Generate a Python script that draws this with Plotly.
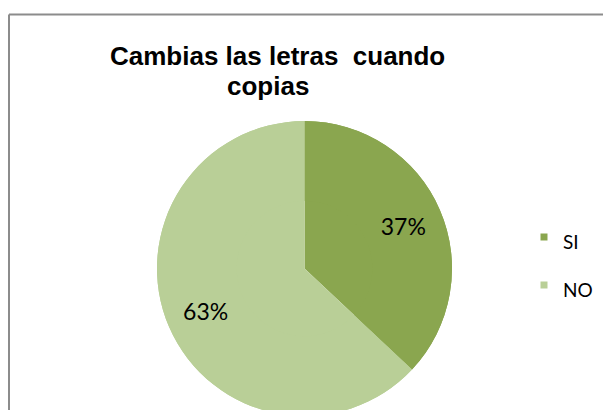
import plotly.graph_objects as go

# ---- data ----
categories = ["SI", "NO"]
values = [37, 63]
colors = ["#8AA64F", "#B9CF97"]
title_lines = ["Cambias las letras  cuando", "copias"]

W, H = 611, 420
OFF = 8  # page body margin in the browser

def px(x):
    return (x - OFF) / W

def py(y):
    return 1 - (y - OFF) / H

pie_domain = dict(x=[px(157), px(452)], y=[py(416), py(121)])

fig = go.Figure()
# base full pie (fills the centre)
fig.add_trace(go.Pie(
    labels=categories, values=values,
    marker=dict(colors=colors, line=dict(width=0)),
    sort=False, direction="clockwise", rotation=0,
    textinfo="none", domain=pie_domain, showlegend=False,
    hoverinfo="skip",
))
# overlay ring carrying the percentage labels
fig.add_trace(go.Pie(
    labels=categories, values=values,
    marker=dict(colors=colors, line=dict(width=0)),
    sort=False, direction="clockwise", rotation=0, hole=0.46,
    textinfo="percent", textposition="inside",
    insidetextorientation="horizontal",
    textfont=dict(family="Lato", size=23, color="#000000"),
    domain=pie_domain, showlegend=False,
    hoverinfo="label+percent",
))

# chart frame
fig.add_shape(type="line", xref="paper", yref="paper",
              x0=px(9), x1=px(700), y0=py(14.5), y1=py(14.5),
              line=dict(color="#8C8C8C", width=2))
fig.add_shape(type="line", xref="paper", yref="paper",
              x0=px(9), x1=px(9), y0=py(14.5), y1=py(500),
              line=dict(color="#8C8C8C", width=2))

# title (two centred lines)
fig.add_annotation(text="<b>" + title_lines[0] + "</b>", xref="paper", yref="paper",
                   x=px(277), y=py(56), xanchor="center", yanchor="middle",
                   showarrow=False,
                   font=dict(family="Liberation Sans", size=26, color="#000000"))
fig.add_annotation(text="<b>" + title_lines[1] + "</b>", xref="paper", yref="paper",
                   x=px(268), y=py(86), xanchor="center", yanchor="middle",
                   showarrow=False,
                   font=dict(family="Liberation Sans", size=26, color="#000000"))

# legend (manual)
leg_y = [237, 285]
for cat, col, yy in zip(categories, colors, leg_y):
    fig.add_shape(type="rect", xref="paper", yref="paper",
                  x0=px(540.5), x1=px(547.5), y0=py(yy - 3.5), y1=py(yy + 3.5),
                  fillcolor=col, line=dict(width=0))
    fig.add_annotation(text=cat, xref="paper", yref="paper",
                       x=px(561), y=py(yy + 4), xanchor="left", yanchor="middle",
                       showarrow=False,
                       font=dict(family="Lato", size=19, color="#000000"))

fig.update_layout(
    width=W, height=H, autosize=False,
    margin=dict(l=0, r=0, t=0, b=0),
    paper_bgcolor="#FFFFFF", plot_bgcolor="#FFFFFF",
    showlegend=False,
)

fig.write_html("out.html")
